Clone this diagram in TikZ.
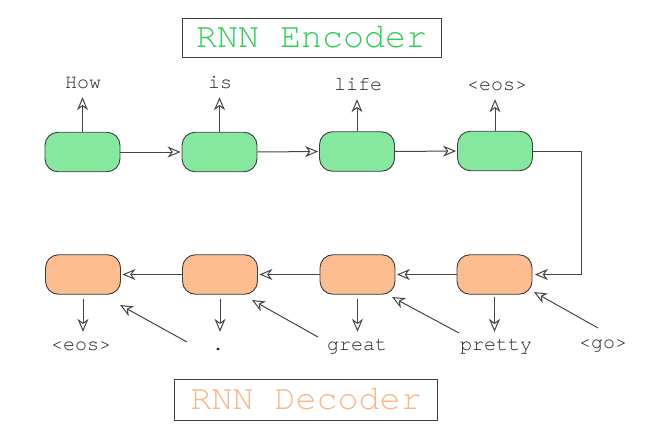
\documentclass[tikz,border=0pt]{standalone}
\usepackage{fontspec}
\setmonofont{TeX Gyre Cursor}
\usetikzlibrary{arrows.meta,calc,patterns}
\definecolor{encfill}{RGB}{134,232,158}
\definecolor{enctext}{RGB}{46,208,84}
\definecolor{decfill}{RGB}{253,186,140}
\definecolor{dectext}{RGB}{249,183,136}
\definecolor{linegray}{RGB}{70,70,70}
\definecolor{bordergray}{RGB}{60,60,60}
\begin{document}
\begin{tikzpicture}[x=1pt,y=-1pt,
  cell/.style={rounded corners=13pt, draw=bordergray, line width=0.9pt,
    minimum width=75pt, minimum height=39.5pt, inner sep=0pt},
  enc/.style={cell, fill=encfill},
  dec/.style={cell, preaction={fill=decfill}, pattern=dots, pattern color=white!55!decfill},
  word/.style={font=\ttfamily\fontsize{20}{20}\selectfont, inner sep=2pt,
    text height=11pt, text depth=4pt, anchor=base, text=black!85},
  titlebox/.style={draw=black!75, line width=1pt, inner sep=0pt,
    font=\ttfamily\fontsize{35}{35}\selectfont},
  link/.style={draw=linegray, line width=1pt,
    -{Stealth[open,length=13pt,width=11pt,inset=4pt]}}]
\useasboundingbox (0,0) rectangle (660,439);

% titles
\node[titlebox, minimum width=259pt, minimum height=39pt, text=enctext] (enct) at (311.5,37.5) {RNN Encoder};
\node[titlebox, minimum width=263pt, minimum height=41pt, text=dectext] (dect) at (306,399.5) {RNN Decoder};

% encoder cells
\node[enc] (e1) at (82.5,152) {};
\node[enc] (e2) at (219.5,152) {};
\node[enc] (e3) at (357,151.5) {};
\node[enc] (e4) at (495,151) {};

% decoder cells
\node[dec] (d1) at (83,274.5) {};
\node[dec] (d2) at (220,274.5) {};
\node[dec] (d3) at (357.5,274.5) {};
\node[dec] (d4) at (494.5,274.5) {};

% encoder output words
\node[word] (w1) at (83,88) {How};
\node[word] (w2) at (220,88) {is};
\node[word] (w3) at (358,90) {life};
\node[word] (w4) at (497,90) {<eos>};

% decoder words
\node[word] (l1) at (81,350) {<eos>};
\node[word] (l2) at (218,350) {.};
\node[word] (l3) at (357,350) {great};
\node[word] (l4) at (496,350) {pretty};
\node[word] (l5) at (603,348) {<go>};

% up arrows
\foreach \i in {1,...,4}
  \draw[link, shorten >=3pt] (e\i.north) -- (e\i.north |- w\i.south);

% encoder chain
\draw[link, shorten >=1pt] (e1.east) -- (e2.west);
\draw[link, shorten >=1pt] (e2.east) -- (e3.west);
\draw[link, shorten >=1pt] (e3.east) -- (e4.west);

% encoder to decoder
\coordinate (k) at (581,0);
\draw[link, shorten >=2.5pt] (e4.east) -- (k |- e4.east) -- (k |- d4.east) -- (d4.east);

% decoder chain
\draw[link, shorten >=1.5pt] (d4.west) -- (d3.east);
\draw[link, shorten >=1.5pt] (d3.west) -- (d2.east);
\draw[link, shorten >=1.5pt] (d2.west) -- (d1.east);

% down arrows
\draw[link, shorten <=4pt, shorten >=5pt] (d1.south) -- (d1.south |- l1.north);
\draw[link, shorten <=4pt, shorten >=5pt] (d2.south) -- (d2.south |- l1.north);
\draw[link, shorten <=4pt, shorten >=5pt] (d3.south) -- (d3.south |- l1.north);
\draw[link, shorten <=2pt, shorten >=5pt] (d4.south) -- (d4.south |- l1.north);

% feed-in diagonals
\coordinate (s1) at (187,342); \coordinate (t1) at (120,305);
\coordinate (s2) at (318,337); \coordinate (t2) at (252,300);
\coordinate (s3) at (459,333); \coordinate (t3) at (392,297);
\coordinate (s4) at (598,328); \coordinate (t4) at (534,292);
\foreach \i in {1,...,4}
  \draw[link] (s\i) -- (t\i);
\end{tikzpicture}
\end{document}
